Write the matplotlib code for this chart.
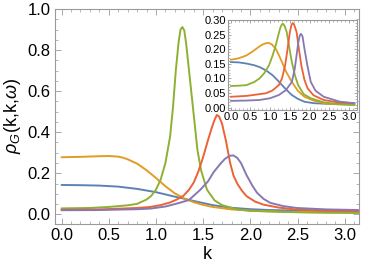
import matplotlib
matplotlib.use('Agg')
import matplotlib.pyplot as plt
from matplotlib.ticker import MultipleLocator

plt.rcParams['font.family'] = ['Liberation Sans', 'DejaVu Sans']
plt.rcParams['mathtext.fontset'] = 'custom'
plt.rcParams['mathtext.rm'] = 'Liberation Sans'
plt.rcParams['mathtext.it'] = 'Liberation Sans:italic'

# Mathematica default palette
colors = ['#5E81B5', '#E19C24', '#8FB032', '#EB6235', '#8778B3']

# ---- main panel data ----
k_blue = [0, 0.2, 0.4, 0.6, 0.8, 1.0, 1.1, 1.2, 1.3, 1.4, 1.5, 1.6, 1.7, 1.8, 2.0, 2.2, 2.5, 2.8, 3.14]
v_blue = [0.143, 0.142, 0.140, 0.135, 0.124, 0.108, 0.097, 0.086, 0.076, 0.065, 0.055, 0.045, 0.038, 0.032, 0.025, 0.021, 0.018, 0.016, 0.015]

k_orange = [0, 0.2, 0.4, 0.5, 0.6, 0.65, 0.7, 0.8, 0.9, 1.0, 1.1, 1.2, 1.3, 1.4, 1.5, 1.6, 1.8, 2.0, 2.3, 2.6, 3.14]
v_orange = [0.278, 0.280, 0.283, 0.284, 0.281, 0.276, 0.268, 0.247, 0.215, 0.177, 0.137, 0.102, 0.077, 0.059, 0.046,
            0.036, 0.024, 0.018, 0.013, 0.010, 0.008]

k_green = [0, 0.3, 0.5, 0.7, 0.8, 0.9, 0.95, 1.0, 1.05, 1.1, 1.15, 1.18, 1.21, 1.24, 1.26, 1.28, 1.30, 1.32, 1.35,
           1.38, 1.41, 1.44, 1.48, 1.54, 1.62, 1.7, 1.85, 2.0, 2.4, 2.8, 3.14]
v_green = [0.029, 0.031, 0.036, 0.044, 0.051, 0.072, 0.09, 0.12, 0.17, 0.25, 0.38, 0.52, 0.70, 0.84, 0.90, 0.912, 0.895,
           0.83, 0.70, 0.57, 0.44, 0.31, 0.21, 0.12, 0.068, 0.045, 0.025, 0.017, 0.011, 0.008, 0.007]

k_red = [0, 0.4, 0.8, 0.94, 1.05, 1.15, 1.22, 1.29, 1.35, 1.4, 1.45, 1.5, 1.55, 1.59, 1.62, 1.645, 1.67, 1.70, 1.74,
         1.785, 1.82, 1.86, 1.91, 1.96, 2.05, 2.14, 2.3, 2.49, 2.8, 3.14]
v_red = [0.022, 0.024, 0.031, 0.036, 0.045, 0.058, 0.072, 0.09, 0.12, 0.155, 0.21, 0.28, 0.36, 0.42, 0.46, 0.484, 0.475,
         0.44, 0.36, 0.251, 0.19, 0.15, 0.115, 0.088, 0.062, 0.047, 0.033, 0.023, 0.018, 0.015]

k_purple = [0, 0.4, 0.8, 0.94, 1.1, 1.25, 1.35, 1.47, 1.55, 1.61, 1.68, 1.73, 1.78, 1.82, 1.86, 1.9, 1.96, 2.02, 2.07,
            2.14, 2.21, 2.35, 2.49, 2.8, 3.14]
v_purple = [0.02, 0.021, 0.025, 0.028, 0.038, 0.056, 0.07, 0.12, 0.16, 0.205, 0.245, 0.27, 0.285, 0.287, 0.275, 0.25,
            0.19, 0.14, 0.105, 0.075, 0.056, 0.04, 0.031, 0.024, 0.021]

# ---- inset data ----
ki_blue = [0, 0.2, 0.4, 0.6, 0.73, 0.9, 1.06, 1.2, 1.3, 1.42, 1.55, 1.7, 1.87, 2.1, 2.4, 2.8, 3.14]
vi_blue = [0.156, 0.155, 0.151, 0.145, 0.139, 0.127, 0.111, 0.092, 0.077, 0.06, 0.043, 0.030, 0.02, 0.015, 0.013, 0.012, 0.011]

ki_orange = [0, 0.2, 0.4, 0.55, 0.7, 0.8, 0.9, 0.96, 1.05, 1.14, 1.22, 1.3, 1.4, 1.55, 1.7, 1.87, 2.1, 2.36, 2.7, 3.14]
vi_orange = [0.164, 0.169, 0.179, 0.192, 0.207, 0.216, 0.221, 0.222, 0.216, 0.202, 0.18, 0.156, 0.124, 0.088, 0.058,
             0.037, 0.024, 0.015, 0.011, 0.009]

ki_green = [0, 0.2, 0.4, 0.6, 0.73, 0.85, 0.97, 1.06, 1.14, 1.2, 1.26, 1.3, 1.33, 1.37, 1.42, 1.48, 1.55, 1.63, 1.71,
            1.85, 2.03, 2.36, 2.7, 3.14]
vi_green = [0.074, 0.075, 0.077, 0.088, 0.10, 0.118, 0.145, 0.178, 0.213, 0.245, 0.275, 0.286, 0.287, 0.279, 0.259,
            0.21, 0.156, 0.11, 0.077, 0.046, 0.032, 0.018, 0.012, 0.009]

ki_red = [0, 0.4, 0.89, 1.05, 1.22, 1.3, 1.38, 1.44, 1.5, 1.54, 1.57, 1.6, 1.64, 1.67, 1.72, 1.79, 1.87, 1.95, 2.1,
          2.36, 2.7, 3.14]
vi_red = [0.037, 0.040, 0.049, 0.058, 0.077, 0.10, 0.145, 0.20, 0.259, 0.283, 0.29, 0.287, 0.272, 0.259, 0.21, 0.145,
          0.095, 0.066, 0.042, 0.026, 0.018, 0.015]

ki_purple = [0, 0.4, 0.73, 1.0, 1.22, 1.4, 1.55, 1.62, 1.67, 1.71, 1.75, 1.78, 1.82, 1.87, 1.95, 2.03, 2.15, 2.36, 2.77, 3.14]
vi_purple = [0.023, 0.024, 0.026, 0.032, 0.043, 0.06, 0.088, 0.13, 0.179, 0.22, 0.247, 0.253, 0.245, 0.202, 0.14,
             0.088, 0.058, 0.037, 0.02, 0.015]

main_series = [(k_blue, v_blue), (k_orange, v_orange), (k_green, v_green), (k_red, v_red), (k_purple, v_purple)]
inset_series = [(ki_blue, vi_blue), (ki_orange, vi_orange), (ki_green, vi_green), (ki_red, vi_red), (ki_purple, vi_purple)]

frame_gray = '#9a9a9a'


def style_frame(ax, labelsize, major, minor):
    for s in ax.spines.values():
        s.set_color(frame_gray)
        s.set_linewidth(0.8)
    ax.tick_params(which='both', direction='in', top=True, right=True, color=frame_gray,
                   labelsize=labelsize, pad=3)
    ax.tick_params(which='major', length=major, width=0.6)
    ax.tick_params(which='minor', length=minor, width=0.5)


fig = plt.figure(figsize=(3.66, 2.72), dpi=100)
ax = fig.add_axes([0.150, 0.178, 0.831, 0.789])
for (k, v), c in zip(main_series, colors):
    ax.plot(k, v, color=c, lw=1.4, solid_capstyle='round', solid_joinstyle='round')
ax.set_xlim(-0.07, 3.15)
ax.set_ylim(-0.045, 1.0)
ax.xaxis.set_major_locator(MultipleLocator(0.5))
ax.xaxis.set_minor_locator(MultipleLocator(0.1))
ax.yaxis.set_major_locator(MultipleLocator(0.2))
ax.yaxis.set_minor_locator(MultipleLocator(0.05))
ax.xaxis.set_major_formatter(plt.FormatStrFormatter('%.1f'))
ax.yaxis.set_major_formatter(plt.FormatStrFormatter('%.1f'))
style_frame(ax, 12, 4, 2.5)
ax.set_xlabel('k', fontsize=13, labelpad=2)
ax.set_ylabel(r'$\rho_G$(k,k,$\omega$)', fontsize=13, labelpad=3)

ins = fig.add_axes([0.623, 0.596, 0.352, 0.330])
for (k, v), c in zip(inset_series, colors):
    ins.plot(k, v, color=c, lw=1.3, solid_capstyle='round', solid_joinstyle='round')
ins.set_xlim(-0.07, 3.2)
ins.set_ylim(-0.008, 0.30)
ins.xaxis.set_major_locator(MultipleLocator(0.5))
ins.xaxis.set_minor_locator(MultipleLocator(0.1))
ins.yaxis.set_major_locator(MultipleLocator(0.05))
ins.yaxis.set_minor_locator(MultipleLocator(0.01))
ins.xaxis.set_major_formatter(plt.FormatStrFormatter('%.1f'))
ins.yaxis.set_major_formatter(plt.FormatStrFormatter('%.2f'))
style_frame(ins, 8, 2.5, 1.5)
ins.tick_params(which='both', pad=1.5)

fig.savefig('out.png', dpi=100)
